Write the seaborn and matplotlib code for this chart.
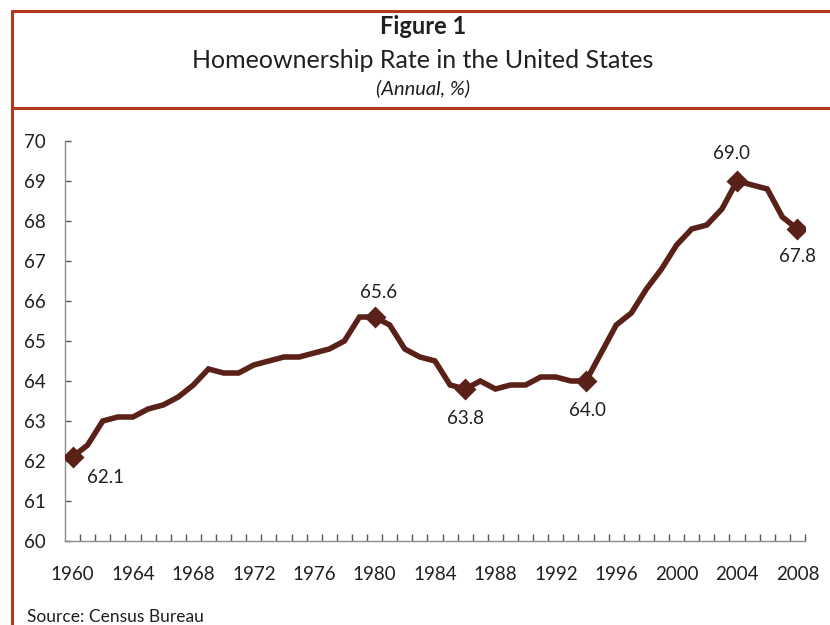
import matplotlib
matplotlib.use("Agg")
import matplotlib.pyplot as plt
from matplotlib.lines import Line2D
import seaborn as sns
import pandas as pd

# Homeownership rate, annual %
years = list(range(1960, 2009))
rate = [62.1, 62.4, 63.0, 63.1, 63.1, 63.3, 63.4, 63.6, 63.9, 64.3,
        64.2, 64.2, 64.4, 64.5, 64.6, 64.6, 64.7, 64.8, 65.0, 65.6,
        65.6, 65.4, 64.8, 64.6, 64.5, 63.9, 63.8, 64.0, 63.8, 63.9,
        63.9, 64.1, 64.1, 64.0, 64.0, 64.7, 65.4, 65.7, 66.3, 66.8,
        67.4, 67.8, 67.9, 68.3, 69.0, 68.9, 68.8, 68.1, 67.8]

marked_years = [1960, 1980, 1986, 1994, 2004, 2008]
# label offsets in points (dx, dy)
label_offsets = [(24, -15), (3, 18), (0, -21), (1, -21), (-4, 20), (0, -20)]

year_ticks = list(range(1960, 2009, 4))
y_ticks = list(range(60, 71))

LINE = "#5a2119"
FRAME = "#b3391c"
TEXT = "#231f20"

sns.set_theme(style="white")
plt.rcParams["font.family"] = ["Lato", "DejaVu Sans"]

df = pd.DataFrame({"year": years, "rate": rate})
marks = df[df["year"].isin(marked_years)]

fig = plt.figure(figsize=(8.3, 6.25), dpi=100)
ax = fig.add_axes([65 / 830, 84 / 625, 740 / 830, 400 / 625])

sns.lineplot(data=df, x="year", y="rate", ax=ax, color=LINE, linewidth=4.0,
             solid_joinstyle="miter")
sns.scatterplot(data=marks, x="year", y="rate", ax=ax, marker="D", s=125,
                color=LINE, edgecolor=LINE, linewidth=0, zorder=5)

for (yr, val), (dx, dy) in zip(marks[["year", "rate"]].values, label_offsets):
    ax.annotate(f"{val:.1f}", (yr, val), xytext=(dx, dy), textcoords="offset points",
                ha="center", va="center", fontsize=13.5, color=TEXT)

ax.set_xlim(1959.5, 2008.5)
ax.set_ylim(60, 70)
ax.set_xlabel("")
ax.set_ylabel("")

# year labels without ticks, ticks on the boundaries between years
ax.set_xticks(year_ticks)
ax.set_xticklabels([str(y) for y in year_ticks])
ax.set_xticks([y + 0.5 for y in years[:-1]] + [2008.5], minor=True)
ax.tick_params(axis="x", which="major", length=0, pad=18, labelsize=13.5, labelcolor=TEXT)
ax.tick_params(axis="x", which="minor", direction="in", length=5, width=1, color="#555555",
               bottom=True)
ax.set_yticks(y_ticks)
ax.tick_params(axis="y", direction="in", length=4, width=1, color="#555555", left=True,
               pad=14, labelsize=13.5, labelcolor=TEXT)

for side in ["top", "right"]:
    ax.spines[side].set_visible(False)
for side in ["left", "bottom"]:
    ax.spines[side].set_color("#8c8c8c")
    ax.spines[side].set_linewidth(1.0)

# titles
fig.text(423 / 830, 1 - 27 / 625, "Figure 1", ha="center", va="center",
         fontsize=17, fontweight="bold", color=TEXT)
fig.text(423 / 830, 1 - 60 / 625, "Homeownership Rate in the United States", ha="center",
         va="center", fontsize=18, color=TEXT)
fig.text(423 / 830, 1 - 88 / 625, "(Annual, %)", ha="center", va="center",
         fontsize=14.5, style="italic", color=TEXT)
fig.text(27 / 830, 1 - 617 / 625, "Source: Census Bureau", ha="left", va="center",
         fontsize=12.5, color=TEXT)

# frame lines
fig.add_artist(Line2D([12 / 830, 1], [1 - 11 / 625, 1 - 11 / 625], color=FRAME, linewidth=2.2))
fig.add_artist(Line2D([12 / 830, 1], [1 - 108 / 625, 1 - 108 / 625], color=FRAME, linewidth=2.2))
fig.add_artist(Line2D([12 / 830, 12 / 830], [0, 1 - 11 / 625], color=FRAME, linewidth=2.2))

fig.savefig("out.png", dpi=100)
